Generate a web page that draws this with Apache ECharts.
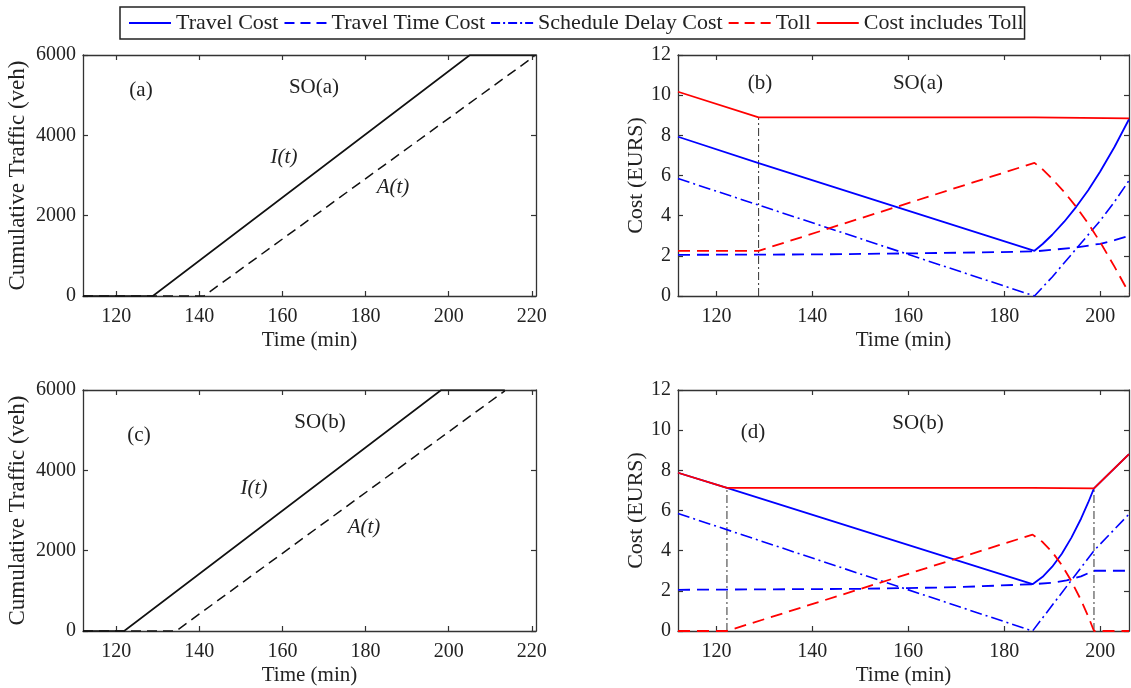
<!DOCTYPE html>
<html>
<head>
<meta charset="utf-8">
<script src="https://cdn.jsdelivr.net/npm/echarts@6/dist/echarts.min.js"></script>
<style>
  html, body { margin: 0; padding: 0; background: #fff; }
  #chart { width: 1131px; height: 688px; }
</style>
</head>
<body>
<div id="chart"></div>
<script>
// ---------- data ----------
const legendNames = ['Travel Cost', 'Travel Time Cost', 'Schedule Delay Cost', 'Toll', 'Cost includes Toll'];

const trafficTicks = [0, 2000, 4000, 6000];
const costTicks = [0, 2, 4, 6, 8, 10, 12];
const timeTicksLong = [120, 140, 160, 180, 200, 220];
const timeTicksShort = [120, 140, 160, 180, 200];

// panel (a) SO(a): cumulative curves [time, veh]
const aInflow = [[112, 0], [128.8, 0], [205.1, 6000], [221, 6000]];
const aArrival = [[112, 0], [141.1, 0], [220.6, 5970]];

// panel (c) SO(b)
const cInflow = [[112, 0], [121.9, 0], [198.2, 6000], [213.5, 6000]];
const cArrival = [[112, 0], [134.4, 0], [213.5, 5980]];

// panel (b) SO(a): costs [time, EUR]
const bTravelCost = [[112, 7.93], [128.8, 6.62], [186.3, 2.25], [188, 2.59], [190, 3.05], [192.5, 3.7], [195, 4.44], [197.5, 5.27], [200, 6.2], [203, 7.43], [206, 8.8]];
const bTravelTime = [[112, 2.05], [140, 2.07], [160, 2.12], [175, 2.17], [186.3, 2.22], [190, 2.3], [195, 2.42], [200, 2.6], [203, 2.78], [206, 3.0]];
const bSchedule = [[112, 5.85], [186.3, 0], [190, 0.95], [195, 2.35], [200, 3.75], [203, 4.7], [206, 5.75]];
const bToll = [[112, 2.25], [128.8, 2.25], [186.3, 6.63], [188, 6.3], [190, 5.83], [192.5, 5.18], [195, 4.44], [197.5, 3.61], [200, 2.68], [203, 1.45], [206, 0.15]];
const bCostToll = [[112, 10.17], [128.8, 8.89], [186.3, 8.89], [186.6, 8.84], [206, 8.84]];
const bMarker = [[128.8, 0], [128.8, 8.89]];

// panel (d) SO(b)
const dTravelCost = [[112, 7.88], [122.2, 7.13], [185.9, 2.33], [188, 2.7], [190, 3.2], [192, 3.85], [194, 4.65], [196, 5.59], [197.5, 6.4], [198.7, 7.1], [206, 8.81]];
const dTravelTime = [[112, 2.05], [150, 2.1], [170, 2.18], [185.9, 2.33], [190, 2.4], [193, 2.52], [196, 2.72], [198.7, 3.0], [206, 3.0]];
const dSchedule = [[112, 5.85], [185.9, 0], [198.7, 4.0], [206, 5.82]];
const dToll = [[112, 0], [122.2, 0], [185.9, 4.8], [188, 4.43], [190, 3.93], [192, 3.28], [194, 2.48], [196, 1.54], [197.5, 0.73], [198.7, 0], [206, 0]];
const dCostToll = [[112, 7.88], [122.2, 7.13], [185.9, 7.13], [198.7, 7.1], [206, 8.81]];
const dMarker1 = [[122.2, 0], [122.2, 7.13]];
const dMarker2 = [[198.7, 0], [198.7, 7.1]];

// ---------- styling ----------
const FONT = 'Liberation Serif';
const TXT = '#222';
const AX = '#333';
const BLUE = '#0000ff';
const RED = '#ff0000';
const DASH = [12, 7];
const DASHDOT = [12, 4, 2, 4];
const THIN_DASHDOT = [8, 3, 2, 3];
const LEG_DASH = [10, 6];
const LEG_DASHDOT = [9, 3, 2, 3];

const grids = [
  { left: 83, top: 55, width: 453, height: 241 },   // a
  { left: 678, top: 55, width: 451, height: 241 },  // b
  { left: 83, top: 390, width: 453, height: 241 },  // c
  { left: 678, top: 390, width: 451, height: 241 }  // d
];
const xRanges = [[112, 221], [112, 206], [112, 221], [112, 206]];
const xTicks = [timeTicksLong, timeTicksShort, timeTicksLong, timeTicksShort];
const yCfg = [
  { min: 0, max: 6000, interval: 2000, ticks: trafficTicks, name: 'Cumulative Traffic (veh)', gap: 54, fs: 23 },
  { min: 0, max: 12, interval: 2, ticks: costTicks, name: 'Cost (EURS)', gap: 31, fs: 22 },
  { min: 0, max: 6000, interval: 2000, ticks: trafficTicks, name: 'Cumulative Traffic (veh)', gap: 54, fs: 23 },
  { min: 0, max: 12, interval: 2, ticks: costTicks, name: 'Cost (EURS)', gap: 31, fs: 22 }
];

const axisLine = { show: true, onZero: false, lineStyle: { color: AX, width: 1.3 } };
const tick = (vals) => ({ show: true, inside: true, length: 5, customValues: vals, lineStyle: { color: AX, width: 1.2 } });

const xAxis = [];
const yAxis = [];
for (let i = 0; i < 4; i++) {
  xAxis.push({
    type: 'value', gridIndex: i, position: 'bottom', min: xRanges[i][0], max: xRanges[i][1],
    splitNumber: 5,
    axisLine, axisTick: tick(xTicks[i]), splitLine: { show: false },
    axisLabel: { show: true, customValues: xTicks[i], margin: 11, color: TXT, fontFamily: FONT, fontSize: 20, formatter: v => String(v) },
    name: 'Time (min)', nameLocation: 'middle', nameGap: 34,
    nameTextStyle: { color: TXT, fontFamily: FONT, fontSize: 21 }
  });
  yAxis.push({
    type: 'value', gridIndex: i, position: 'left', min: yCfg[i].min, max: yCfg[i].max, interval: yCfg[i].interval,
    axisLine, axisTick: tick(yCfg[i].ticks), splitLine: { show: false },
    axisLabel: { show: true, margin: 7, color: TXT, fontFamily: FONT, fontSize: 20, formatter: v => String(v) },
    name: yCfg[i].name, nameLocation: 'middle', nameGap: yCfg[i].gap, nameRotate: 90,
    nameTextStyle: { color: TXT, fontFamily: FONT, fontSize: yCfg[i].fs }
  });
}
for (let i = 0; i < 4; i++) {
  xAxis.push({
    type: 'value', gridIndex: i, position: 'top', min: xRanges[i][0], max: xRanges[i][1],
    splitNumber: 5,
    axisLine, axisTick: tick(xTicks[i]), splitLine: { show: false },
    axisLabel: { show: false, customValues: xTicks[i] }
  });
  yAxis.push({
    type: 'value', gridIndex: i, position: 'right', min: yCfg[i].min, max: yCfg[i].max, interval: yCfg[i].interval,
    axisLine, axisTick: tick(yCfg[i].ticks), splitLine: { show: false },
    axisLabel: { show: false }
  });
}

function line(name, data, idx, color, type, width, z) {
  return {
    type: 'line', name, data, xAxisIndex: idx, yAxisIndex: idx,
    symbol: 'none', showSymbol: false, silent: true, animation: false,
    lineStyle: { color, type, width }, itemStyle: { color },
    z: z || 2
  };
}

const series = [
  // (a)
  line('A(t) a', aArrival, 0, '#111', [10, 6], 1.5),
  line('I(t) a', aInflow, 0, '#111', 'solid', 1.6, 3),
  // (c)
  line('A(t) c', cArrival, 2, '#111', [10, 6], 1.5),
  line('I(t) c', cInflow, 2, '#111', 'solid', 1.6, 3),
  // (b)
  line('marker b', bMarker, 1, '#333', THIN_DASHDOT, 1, 1),
  line(legendNames[0], bTravelCost, 1, BLUE, 'solid', 1.8),
  line(legendNames[1], bTravelTime, 1, BLUE, DASH, 1.8),
  line(legendNames[2], bSchedule, 1, BLUE, DASHDOT, 1.6),
  line(legendNames[3], bToll, 1, RED, DASH, 1.8),
  line(legendNames[4], bCostToll, 1, RED, 'solid', 1.8),
  // (d)
  line('marker d1', dMarker1, 3, '#333', THIN_DASHDOT, 1, 1),
  line('marker d2', dMarker2, 3, '#333', THIN_DASHDOT, 1, 1),
  line(legendNames[0], dTravelCost, 3, BLUE, 'solid', 1.8),
  line(legendNames[1], dTravelTime, 3, BLUE, DASH, 1.8),
  line(legendNames[2], dSchedule, 3, BLUE, DASHDOT, 1.6),
  line(legendNames[3], dToll, 3, RED, DASH, 1.8),
  line(legendNames[4], dCostToll, 3, RED, 'solid', 1.8)
];

function txt(text, x, y, italic) {
  return {
    type: 'text', x, y, silent: true, z: 100,
    style: {
      text, x: 0, y: 0, fill: TXT,
      font: (italic ? 'italic ' : '') + '21px "' + FONT + '"',
      align: 'center', verticalAlign: 'middle', textAlign: 'center', textVerticalAlign: 'middle'
    }
  };
}

const legendDashes = ['solid', LEG_DASH, LEG_DASHDOT, LEG_DASH, 'solid'];

const option = {
  backgroundColor: '#fff',
  animation: false,
  grid: grids.map(g => Object.assign({ containLabel: false, outerBoundsMode: 'none' }, g)),
  xAxis, yAxis, series,
  legend: {
    data: legendNames.map((n, i) => ({ name: n, lineStyle: { type: legendDashes[i], width: 2 } })),
    left: 120, top: 7,
    orient: 'horizontal',
    itemWidth: 42, itemHeight: 14, itemGap: 5,
    padding: [5, 1, 5, 8],
    borderColor: '#222', borderWidth: 1.5, borderRadius: 0,
    backgroundColor: '#fff',
    selectedMode: false,
    itemStyle: { opacity: 0 },
    textStyle: { color: TXT, fontFamily: FONT, fontSize: 22, padding: [0, 0, 0, 0] }
  },
  graphic: [
    txt('(a)', 141, 90), txt('SO(a)', 314, 87), txt('I(t)', 284, 157, true), txt('A(t)', 393, 187, true),
    txt('(b)', 760, 83), txt('SO(a)', 918, 83),
    txt('(c)', 139, 435), txt('SO(b)', 320, 422), txt('I(t)', 254, 488, true), txt('A(t)', 364, 527, true),
    txt('(d)', 753, 432), txt('SO(b)', 918, 423)
  ]
};

const chart = echarts.init(document.getElementById('chart'), null, { renderer: 'canvas' });
chart.setOption(option);
</script>
</body>
</html>
